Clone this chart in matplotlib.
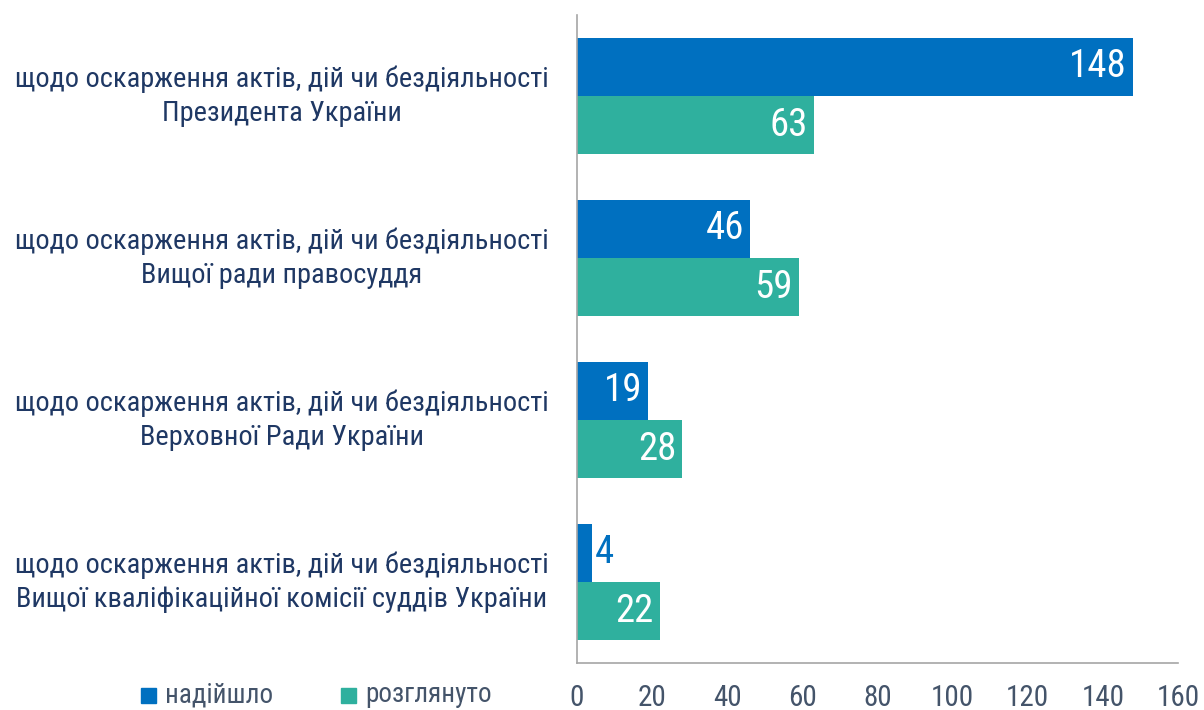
import matplotlib
matplotlib.use('Agg')
import matplotlib.pyplot as plt
import matplotlib.transforms as mtransforms
from matplotlib import font_manager
from matplotlib.patches import Rectangle

names = set(f.name for f in font_manager.fontManager.ttflist)
if 'Roboto Condensed' in names:
    fam = 'Roboto Condensed'
    k = 1.0
elif 'Liberation Sans Narrow' in names:
    fam = 'Liberation Sans Narrow'
    k = 1.0
else:
    fam = 'Roboto'
    k = 0.8
plt.rcParams['font.family'] = [fam, 'DejaVu Sans']

# дані
categories = ['щодо оскарження актів, дій чи бездіяльності\nПрезидента України',
              'щодо оскарження актів, дій чи бездіяльності\nВищої ради правосуддя',
              'щодо оскарження актів, дій чи бездіяльності\nВерховної Ради України',
              'щодо оскарження актів, дій чи бездіяльності\nВищої кваліфікаційної комісії суддів України']
nadiishlo = [148, 46, 19, 4]
rozghlianuto = [63, 59, 28, 22]
series_names = ['надійшло', 'розглянуто']
xticks = [0, 20, 40, 60, 80, 100, 120, 140, 160]

c_blue = '#0070C0'
c_teal = '#2FB09E'
c_text = '#1F3864'
c_tick = '#44546A'

fig = plt.figure(figsize=(12.04, 7.10), dpi=100)
ax = fig.add_axes([577/1204, 47/710, 601/1204, 648/710])

h = 0.36
y = list(range(len(categories)))
b1 = ax.barh([i - h/2 for i in y], nadiishlo, height=h, color=c_blue)
b2 = ax.barh([i + h/2 for i in y], rozghlianuto, height=h, color=c_teal)

for bars, vals, col in ((b1, nadiishlo, c_blue), (b2, rozghlianuto, c_teal)):
    for r, v in zip(bars, vals):
        yc = r.get_y() + r.get_height()/2
        if v >= 10:
            ax.text(r.get_width() - 1.6, yc, str(v),
                    ha='right', va='center', color='white', fontsize=28*k)
        else:
            # не вміщується в смугу - підпис поруч
            ax.text(r.get_width() + 0.8, yc, str(v),
                    ha='left', va='center', color=col, fontsize=28*k)

ax.set_xlim(0, 160)
ax.set_ylim(3.5, -0.5)
ax.set_xticks(xticks)
ax.set_xticklabels([str(t) for t in xticks], fontsize=21*k, color=c_tick)
ax.tick_params(axis='x', length=0, pad=15)
ax.set_yticks([])
for s in ['top', 'right']:
    ax.spines[s].set_visible(False)
for s in ['left', 'bottom']:
    ax.spines[s].set_color('#A6A6A6')
    ax.spines[s].set_linewidth(1.2)

# підписи категорій
tr = mtransforms.blended_transform_factory(fig.transFigure, ax.transData)
for i, c in enumerate(categories):
    ax.text(282/1204, i, c, transform=tr, ha='center', va='center',
            fontsize=20.4*k, color=c_text, linespacing=1.35)

# легенда
for xs, col, name in ((141, c_blue, series_names[0]), (341, c_teal, series_names[1])):
    fig.patches.append(Rectangle((xs/1204, 7/710), 15/1204, 15/710,
                                 transform=fig.transFigure, color=col))
    fig.text((xs + 24)/1204, 15/710, name, fontsize=19.5*k, color=c_tick, va='center')

fig.savefig('out.png', dpi=100)
